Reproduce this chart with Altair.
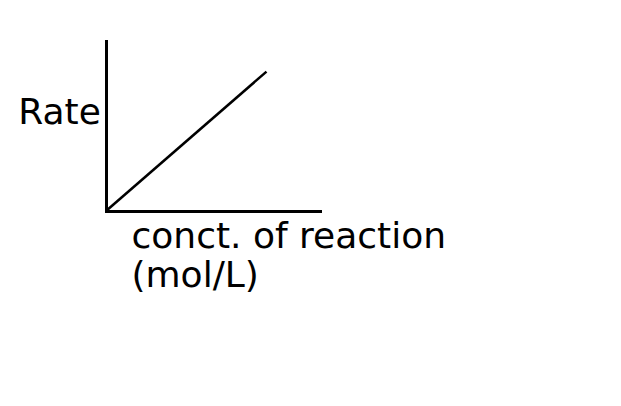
import altair as alt
import pandas as pd

conc = [0.0, 0.75]
rate = [0.0, 0.82]
x_title = ["conct. of reaction", "(mol/L)"]
y_title = "Rate"

df = pd.DataFrame({"conc": conc, "rate": rate})

FONT = "DejaVu Sans"

chart = (
    alt.Chart(df)
    .mark_line(color="black", strokeWidth=2.5)
    .encode(
        x=alt.X(
            "conc:Q",
            scale=alt.Scale(domain=[0, 1], nice=False),
            axis=alt.Axis(
                title=x_title,
                ticks=False,
                labels=False,
                grid=False,
                domainColor="black",
                domainWidth=3,
                domainCap="square",
                titleFont=FONT,
                titleFontSize=36,
                titleFontWeight="normal",
                titleColor="black",
                titleAlign="left",
                titleBaseline="alphabetic",
                titleX=25,
                titleY=36,
                titleLineHeight=39,
            ),
        ),
        y=alt.Y(
            "rate:Q",
            scale=alt.Scale(domain=[0, 1], nice=False),
            axis=alt.Axis(
                title=y_title,
                ticks=False,
                labels=False,
                grid=False,
                domainColor="black",
                domainWidth=3,
                domainCap="square",
                titleFont=FONT,
                titleFontSize=36,
                titleFontWeight="normal",
                titleColor="black",
                titleAngle=0,
                titleAlign="center",
                titleBaseline="alphabetic",
                titleX=-47,
                titleY=82,
            ),
        ),
    )
    .properties(
        width=214,
        height=170,
        padding={"left": 98, "top": 33, "right": 293, "bottom": 187},
        autosize=alt.AutoSizeParams(type="none"),
        background="white",
    )
    .configure_view(stroke=None)
)

chart.save("out.html", embed_options={"renderer": "svg", "actions": False})
